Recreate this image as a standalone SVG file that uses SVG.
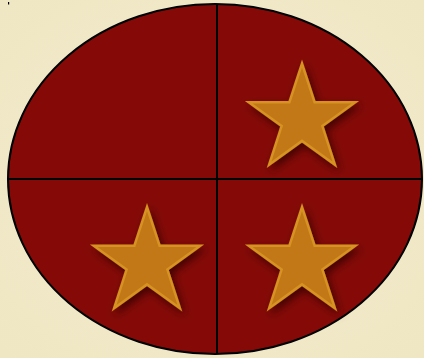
<svg xmlns="http://www.w3.org/2000/svg" width="424" height="358" viewBox="0 0 424 358">
<defs>
<style>
.quad{stroke:#000;stroke-width:2;fill:none}
.star{fill:#c27818;stroke:#d79322;stroke-width:2.5;stroke-linejoin:miter;filter:url(#sh)}
</style>
<filter id="sh" x="-30%" y="-30%" width="160%" height="160%">
<feGaussianBlur in="SourceAlpha" stdDeviation="4"/>
<feOffset dx="3" dy="4" result="b"/>
<feFlood flood-color="#2a0000" flood-opacity="0.75"/>
<feComposite in2="b" operator="in"/>
<feMerge><feMergeNode/><feMergeNode in="SourceGraphic"/></feMerge>
</filter>
<radialGradient id="bg" cx="50%" cy="50%" r="70%">
<stop offset="0" stop-color="#f3ecce"/>
<stop offset="1" stop-color="#efe6c3"/>
</radialGradient>
<path id="st" d="M0,-56 L12.6,-17.3 L53.3,-17.3 L20.4,6.6 L32.9,45.3 L0,21.4 L-32.9,45.3 L-20.4,6.6 L-53.3,-17.3 L-12.6,-17.3 Z"/>
</defs>
<rect width="424" height="358" fill="url(#bg)"/>
<rect x="8" y="2" width="1.2" height="2.5" fill="#000"/>
<g id="field">
<ellipse cx="215" cy="179" rx="207" ry="175" fill="#850a07" stroke="#000" stroke-width="2"/>
</g>
<g id="dividers">
<line class="quad" x1="217" y1="4" x2="217" y2="354"/>
<line class="quad" x1="8" y1="179" x2="422" y2="179"/>
</g>
<g id="star-top-right"><use href="#st" class="star" x="302" y="119.5"/></g>
<g id="star-bottom-left"><use href="#st" class="star" x="147" y="263"/></g>
<g id="star-bottom-right"><use href="#st" class="star" x="302" y="263"/></g>
</svg>
